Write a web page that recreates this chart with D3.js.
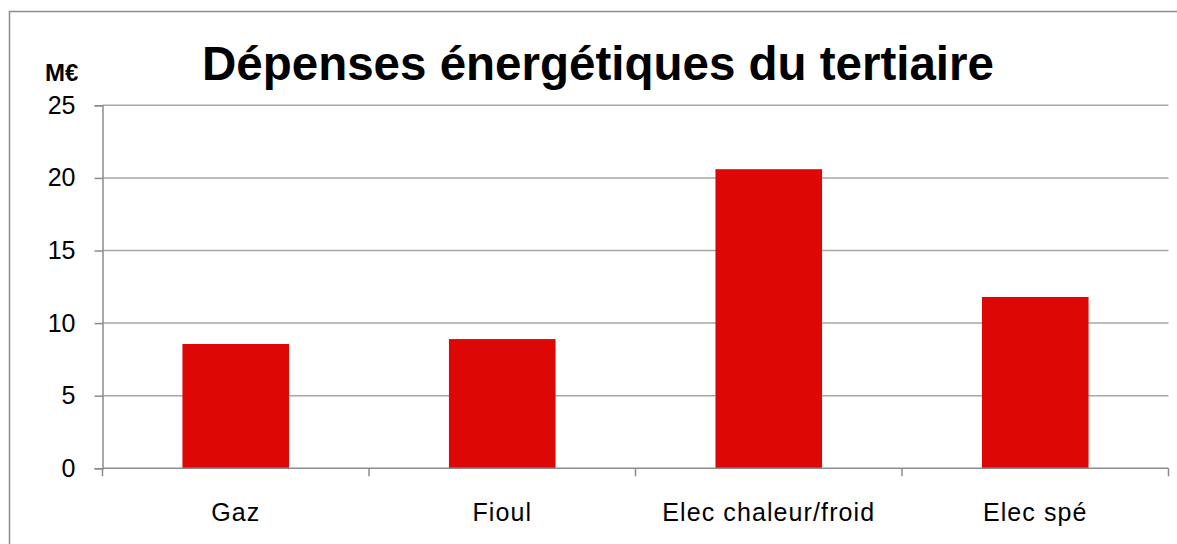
<!DOCTYPE html>
<html>
<head>
<meta charset="utf-8">
<script src="https://cdn.jsdelivr.net/npm/d3@7"></script>
<style>
  html, body { margin: 0; padding: 0; background: #fff; }
  svg { display: block; font-family: "Liberation Sans", Arial, sans-serif; }
</style>
</head>
<body>
<svg id="chart" width="1177" height="544"></svg>
<script>
// Dépenses énergétiques du tertiaire (M€)
const categories = ["Gaz", "Fioul", "Elec chaleur/froid", "Elec spé"];
const values = [8.56, 8.9, 20.6, 11.8];
const yTicks = [0, 5, 10, 15, 20, 25];

const plot = { left: 102.5, right: 1168.5, top: 105.3, bottom: 468.3 };

const svg = d3.select("#chart");

// outer frame of the chart object
svg.append("rect")
  .attr("x", 9.5).attr("y", 11.5)
  .attr("width", 1300).attr("height", 700)
  .attr("fill", "none").attr("stroke", "#8c8c8c").attr("stroke-width", 1.5);

const x = d3.scaleBand()
  .domain(categories)
  .range([plot.left, plot.right])
  .paddingInner(0.6).paddingOuter(0.3);

const y = d3.scaleLinear()
  .domain([0, 25])
  .range([plot.bottom, plot.top]);

// horizontal gridlines
svg.append("g")
  .selectAll("line")
  .data(yTicks.filter(d => d > 0))
  .join("line")
  .attr("x1", plot.left).attr("x2", plot.right)
  .attr("y1", d => y(d)).attr("y2", d => y(d))
  .attr("stroke", "#a6a6a6").attr("stroke-width", 1.5);

// bars
svg.append("g")
  .selectAll("rect")
  .data(values)
  .join("rect")
  .attr("x", (d, i) => x(categories[i]))
  .attr("width", x.bandwidth())
  .attr("y", d => y(d))
  .attr("height", d => y(0) - y(d))
  .attr("fill", "#dd0806");

// y axis
const yAxis = d3.axisLeft(y)
  .tickValues(yTicks)
  .tickSize(8)
  .tickPadding(19)
  .tickFormat(d3.format("d"));
const gy = svg.append("g")
  .attr("transform", `translate(${plot.left},0)`)
  .call(yAxis);
gy.select(".domain").attr("stroke", "#8c8c8c").attr("stroke-width", 1.5);
gy.selectAll(".tick line").attr("stroke", "#8c8c8c").attr("stroke-width", 1.5);
gy.selectAll(".tick text")
  .attr("font-size", 25).attr("fill", "#000")
  .attr("font-family", "'Liberation Sans', Arial, sans-serif");

// x axis: baseline with tick marks at category boundaries
const bounds = d3.range(categories.length + 1).map(i => plot.left + i * (plot.right - plot.left) / categories.length);
svg.append("line")
  .attr("x1", plot.left).attr("x2", plot.right)
  .attr("y1", plot.bottom).attr("y2", plot.bottom)
  .attr("stroke", "#8c8c8c").attr("stroke-width", 1.5);
svg.append("g")
  .selectAll("line")
  .data(bounds)
  .join("line")
  .attr("x1", d => d).attr("x2", d => d)
  .attr("y1", plot.bottom).attr("y2", plot.bottom + 8)
  .attr("stroke", "#8c8c8c").attr("stroke-width", 1.5);

svg.append("g")
  .selectAll("text")
  .data(categories)
  .join("text")
  .attr("x", d => x(d) + x.bandwidth() / 2)
  .attr("y", 521)
  .attr("text-anchor", "middle")
  .attr("font-size", 25)
  .attr("letter-spacing", 1.1)
  .attr("fill", "#000")
  .text(d => d);

// unit label
svg.append("text")
  .attr("x", 45).attr("y", 81)
  .attr("font-size", 24).attr("font-weight", "bold")
  .text("M€");

// title
svg.append("text")
  .attr("x", 598).attr("y", 80)
  .attr("text-anchor", "middle")
  .attr("font-size", 47.5).attr("font-weight", "bold")
  .text("Dépenses énergétiques du tertiaire");
</script>
</body>
</html>
